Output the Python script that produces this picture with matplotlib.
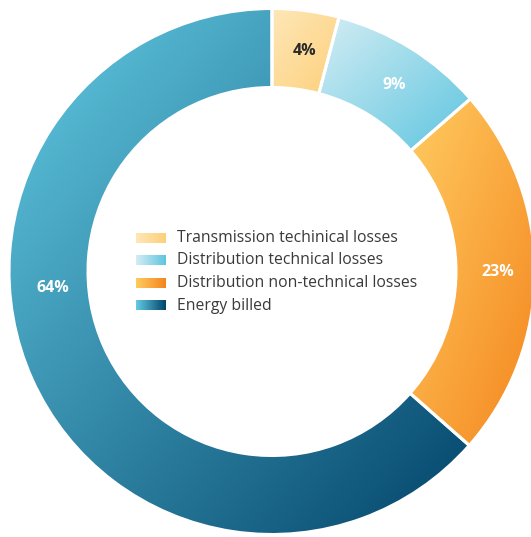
import numpy as np
import matplotlib
matplotlib.use("Agg")
import matplotlib.pyplot as plt
from matplotlib.colors import LinearSegmentedColormap

categories = ["Transmission techinical losses", "Distribution technical losses",
              "Distribution non-technical losses", "Energy billed"]
values = [4.1, 9.5, 22.9, 63.5]
labels = ["4%", "9%", "23%", "64%"]
grad_start = ["#fee7b8", "#d3edf4", "#ffcb60", "#63cbe3"]
grad_end = ["#fdd07a", "#5ec5df", "#f4861e", "#02446a"]
label_colors = ["#2a2a2a", "white", "white", "white"]
label_angles = [81.7, 56.9, -0.2, 184.4]
label_radii = [223, 223, 226, 220]

W, H = 531, 537
fig = plt.figure(figsize=(W / 100, H / 100), dpi=100)
ax = fig.add_axes([0, 0, 1, 1])

cx, cy = 272, H - 271.5
R, r = 263, 184

wedges, _ = ax.pie(values, center=(cx, cy), radius=R, startangle=90, counterclock=False,
                   wedgeprops=dict(width=R - r, facecolor="none", edgecolor="white", linewidth=2.2),
                   frame=True)


def gradient_image(c1, c2, n=300):
    xs = np.linspace(0, 1, n)
    ys = np.linspace(0, 1, n)
    X, Y = np.meshgrid(xs, ys)
    t = (X + (1 - Y)) / 2.0
    cmap = LinearSegmentedColormap.from_list("g", [c1, c2])
    return t, cmap


for w, c1, c2 in zip(wedges, grad_start, grad_end):
    w.set_zorder(3)
    bb = w.get_path().get_extents(w.get_patch_transform())
    t, cmap = gradient_image(c1, c2)
    im = ax.imshow(t, cmap=cmap, extent=(bb.x0, bb.x1, bb.y0, bb.y1), origin="lower",
                   vmin=0, vmax=1, zorder=2, interpolation="bilinear", aspect="auto")
    im.set_clip_path(w)

for lab, ang, rl, col in zip(labels, label_angles, label_radii, label_colors):
    a = np.deg2rad(ang)
    ax.text(cx + rl * np.cos(a), cy + rl * np.sin(a), lab, ha="center", va="center",
            color=col, fontsize=11.5, fontweight="bold", family="Open Sans", zorder=5)

leg_x = 136
leg_y0 = H - 238
step = 22.5
for i, (cat, c1, c2) in enumerate(zip(categories, grad_start, grad_end)):
    yy = leg_y0 - i * step
    cmap = LinearSegmentedColormap.from_list("lg", [c1, c2])
    g = np.linspace(0, 1, 100).reshape(1, -1)
    ax.imshow(g, cmap=cmap, extent=(leg_x, leg_x + 30, yy - 5, yy + 5), aspect="auto",
              zorder=4, interpolation="bilinear")
    ax.text(leg_x + 41, yy, cat, ha="left", va="center", fontsize=11.3,
            color="#3a3a3a", family="Open Sans", zorder=5)

ax.set_xlim(0, W)
ax.set_ylim(0, H)
ax.axis("off")
fig.savefig("out.png", dpi=100)
